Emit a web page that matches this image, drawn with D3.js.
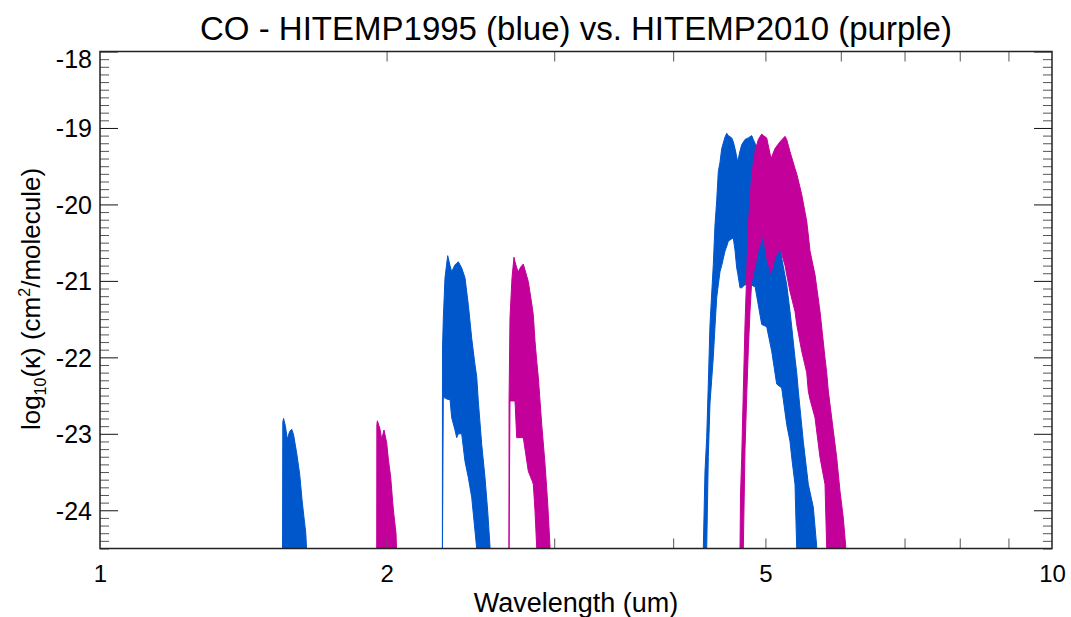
<!DOCTYPE html>
<html lang="en">
<head>
  <meta charset="UTF-8" />
  <title>CO - HITEMP1995 vs. HITEMP2010</title>
  <script src="https://d3js.org/d3.v7.min.js"></script>
  <style>
    body { margin: 0; background: #fff; }
    svg { display: block; font-family: "Liberation Sans", Arial, Helvetica, sans-serif; }
    .tick line { stroke: #555; }
    .major .tick line { stroke: #111; }
  </style>
</head>
<body>
<svg id="chart" width="1071" height="617"></svg>
<script>
// each band: [wavelength (um), upper envelope, lower envelope] in log10(kappa)
const band1995a = [
  [1.555, -24.5, -24.5], [1.556, -22.85, -24.5], [1.559, -22.80, -24.5], [1.566, -22.90, -24.5],
  [1.573, -23.07, -24.5], [1.582, -22.97, -24.5], [1.590, -22.94, -24.5], [1.597, -23.01, -24.5],
  [1.609, -23.25, -24.5], [1.621, -23.53, -24.5], [1.630, -23.86, -24.5], [1.637, -24.07, -24.5],
  [1.645, -24.30, -24.5], [1.648, -24.5, -24.5]
];
const band1995b = [
  [2.2890, -24.5, -24.5], [2.2895, -21.9, -24.5], [2.2940, -21.5, -22.53], [2.3035, -20.96, -22.53],
  [2.3186, -20.67, -22.55], [2.3316, -20.80, -22.55], [2.3411, -20.88, -22.79], [2.3599, -20.79, -22.95],
  [2.3696, -20.77, -23.05], [2.3788, -20.75, -23.0], [2.3985, -20.83, -23.0], [2.4177, -20.96, -23.36],
  [2.4371, -21.31, -23.57], [2.4572, -21.75, -23.83], [2.4769, -22.10, -24.27], [2.4871, -22.25, -24.5],
  [2.4967, -22.57, -24.5], [2.5174, -23.14, -24.5], [2.5375, -23.57, -24.5], [2.5541, -24.01, -24.5],
  [2.5684, -24.47, -24.5]
];
const band1995c = [
  [4.3025, -24.5, -24.5], [4.3201, -23.49, -24.5], [4.3380, -23.05, -24.5], [4.3548, -22.35, -23.3],
  [4.3727, -21.57, -22.6], [4.4077, -20.79, -22.0], [4.4259, -20.27, -21.6], [4.4441, -19.95, -21.22],
  [4.4614, -19.57, -21.05], [4.4798, -19.45, -20.88], [4.4983, -19.27, -20.80], [4.5343, -19.12, -20.61],
  [4.5530, -19.07, -20.55], [4.5707, -19.10, -20.48], [4.6085, -19.13, -20.45], [4.6264, -19.18, -20.44],
  [4.6455, -19.27, -20.6], [4.6646, -19.38, -20.83], [4.6759, -19.44, -20.9], [4.7020, -19.30, -21.09],
  [4.7214, -19.22, -21.09], [4.7592, -19.15, -21.05], [4.7974, -19.13, -21.05], [4.8370, -19.10, -21.05],
  [4.8557, -19.15, -21.07], [4.8758, -19.2, -21.07], [4.9554, -19.35, -21.57], [5.0157, -19.6, -21.6],
  [5.0767, -19.85, -21.92], [5.1384, -20.3, -22.35], [5.2009, -20.7, -22.4], [5.2642, -21.05, -22.88],
  [5.3064, -21.40, -23.1], [5.3283, -21.6, -23.31], [5.3709, -22.01, -23.66], [5.3931, -22.2, -24.5],
  [5.4140, -22.44, -24.5], [5.4798, -23.10, -24.5], [5.5465, -23.66, -24.5], [5.6139, -23.96, -24.5],
  [5.6604, -24.47, -24.5]
];
const band2010a = [
  [1.9528, -24.5, -24.5], [1.9535, -22.88, -24.5], [1.9561, -22.83, -24.5], [1.9685, -22.94, -24.5],
  [1.9766, -23.07, -24.5], [1.9876, -22.95, -24.5], [2.0006, -23.12, -24.5], [2.0084, -23.33, -24.5],
  [2.0201, -23.57, -24.5], [2.0299, -23.90, -24.5], [2.0362, -24.07, -24.5], [2.0461, -24.30, -24.5],
  [2.0485, -24.5, -24.5]
];
const band2010b = [
  [2.6890, -24.5, -24.5], [2.6895, -22.57, -24.5], [2.6957, -21.48, -22.57], [2.7088, -20.96, -22.57],
  [2.7219, -20.69, -22.57], [2.7285, -20.75, -22.57], [2.7398, -20.83, -23.05], [2.7505, -20.88, -23.05],
  [2.7665, -20.82, -23.05], [2.7839, -20.78, -23.05], [2.8178, -21.01, -23.49], [2.8452, -21.35, -23.62],
  [2.8521, -21.45, -23.66], [2.8639, -21.79, -24.01], [2.8758, -22.05, -24.5], [2.8870, -22.27, -24.5],
  [2.9108, -22.88, -24.5], [2.9342, -23.40, -24.5], [2.9534, -23.92, -24.5], [2.9695, -24.47, -24.5]
];
const band2010c = [
  [4.7020, -24.5, -24.5], [4.7077, -23.8, -24.5], [4.7214, -23.31, -24.5], [4.7397, -22.44, -24.5],
  [4.7592, -21.57, -23.2], [4.7788, -20.92, -22.5], [4.7974, -20.27, -21.9], [4.8171, -19.95, -21.4],
  [4.8370, -19.61, -21.0], [4.8758, -19.31, -20.8], [4.9148, -19.15, -20.6], [4.9554, -19.08, -20.45],
  [4.9747, -19.10, -20.4], [5.0157, -19.13, -20.7], [5.0681, -19.40, -20.9], [5.1172, -19.27, -20.7],
  [5.1795, -19.18, -20.57], [5.2427, -19.11, -20.8], [5.2642, -19.15, -20.92], [5.3064, -19.31, -21.14],
  [5.3709, -19.53, -21.4], [5.3931, -19.6, -21.57], [5.4587, -19.87, -21.92], [5.5251, -20.22, -22.2],
  [5.5465, -20.4, -22.44], [5.5695, -20.61, -22.55], [5.6372, -20.92, -22.79], [5.7057, -21.40, -23.31],
  [5.7751, -22.01, -23.66], [5.7989, -22.2, -24.5], [5.8214, -22.44, -24.5], [5.8921, -22.96, -24.5],
  [5.9407, -23.31, -24.5], [5.9884, -23.75, -24.5], [6.0365, -24.10, -24.5], [6.0716, -24.47, -24.5]
];
const bands1995 = [band1995a, band1995b, band1995c];
const bands2010 = [band2010a, band2010b, band2010c];

const xLabelTicks = [1, 2, 5, 10];
const xMinorTicks = [2, 3, 4, 5, 6, 7, 8, 9];
const yMajorTicks = [-24, -23, -22, -21, -20, -19, -18];

const blue = "#0057cc", purple = "#c4009a";

const svg = d3.select("#chart");
const margin = {left: 100, right: 1052, top: 51.5, bottom: 548.5};

const x = d3.scaleLog().domain([1, 10]).range([margin.left, margin.right]);
const y = d3.scaleLinear().domain([-24.5, -18]).range([margin.bottom, margin.top]);

svg.append("defs").append("clipPath").attr("id", "plotclip")
  .append("rect")
  .attr("x", margin.left).attr("y", margin.top)
  .attr("width", margin.right - margin.left).attr("height", margin.bottom - margin.top);

const area = d3.area()
  .x(d => x(d[0]))
  .y0(d => y(d[2]))
  .y1(d => y(d[1]));

const plot = svg.append("g").attr("clip-path", "url(#plotclip)");

function drawBands(bands, color) {
  plot.append("g").selectAll("path")
    .data(bands)
    .enter()
    .append("path")
    .attr("d", area)
    .attr("fill", color)
    .attr("stroke", color)
    .attr("stroke-width", 1)
    .attr("stroke-linejoin", "round");
}
drawBands(bands1995, blue);
drawBands(bands2010, purple);

// y minor ticks every 0.1
const yMinor = d3.range(-245, -179, 1).map(v => v / 10).filter(v => Math.abs(v - Math.round(v)) > 0.01);

function noDomain(g) { g.select(".domain").remove(); }

svg.append("g").attr("transform", `translate(${margin.left},0)`)
  .call(d3.axisLeft(y).tickValues(yMinor).tickSize(-9).tickFormat(""))
  .call(noDomain);
svg.append("g").attr("transform", `translate(${margin.right},0)`)
  .call(d3.axisRight(y).tickValues(yMinor).tickSize(-9).tickFormat(""))
  .call(noDomain);

svg.append("g").attr("class", "major").attr("transform", `translate(${margin.left},0)`)
  .call(d3.axisLeft(y).tickValues(yMajorTicks).tickSize(-18).tickPadding(8).tickFormat(d => String(d)))
  .call(noDomain)
  .call(g => g.selectAll("text")
    .attr("font-size", 25)
    .attr("fill", "#000")
    .attr("dy", d => d === -18 ? "0.62em" : "0.36em"));
svg.append("g").attr("class", "major").attr("transform", `translate(${margin.right},0)`)
  .call(d3.axisRight(y).tickValues(yMajorTicks).tickSize(-18).tickFormat(""))
  .call(noDomain);

svg.append("g").attr("transform", `translate(0,${margin.bottom})`)
  .call(d3.axisBottom(x).tickValues(xMinorTicks).tickSize(-10).tickFormat(""))
  .call(noDomain);
svg.append("g").attr("transform", `translate(0,${margin.top})`)
  .call(d3.axisTop(x).tickValues(xMinorTicks).tickSize(-10).tickFormat(""))
  .call(noDomain);

svg.append("g").attr("transform", `translate(0,${margin.bottom})`)
  .call(d3.axisBottom(x).tickValues(xLabelTicks).tickSize(0).tickPadding(16).tickFormat(d => String(d)))
  .call(noDomain)
  .call(g => g.selectAll("text").attr("font-size", 24).attr("fill", "#000"));

// frame
svg.append("rect")
  .attr("x", margin.left).attr("y", margin.top)
  .attr("width", margin.right - margin.left).attr("height", margin.bottom - margin.top)
  .attr("fill", "none").attr("stroke", "#222").attr("stroke-width", 1.5);

svg.append("text")
  .attr("x", 576).attr("y", 40)
  .attr("text-anchor", "middle")
  .attr("font-size", 33)
  .text("CO - HITEMP1995 (blue) vs. HITEMP2010 (purple)");

svg.append("text")
  .attr("x", 576).attr("y", 612)
  .attr("text-anchor", "middle")
  .attr("font-size", 27)
  .text("Wavelength (um)");

const ylab = svg.append("text")
  .attr("transform", "translate(40,299) rotate(-90)")
  .attr("text-anchor", "middle")
  .attr("font-size", 26);
ylab.append("tspan").text("log");
ylab.append("tspan").attr("font-size", 16).attr("dy", 6).text("10");
ylab.append("tspan").attr("dy", -6).text("(κ) (cm");
ylab.append("tspan").attr("font-size", 16).attr("dy", -10).text("2");
ylab.append("tspan").attr("dy", 10).text("/molecule)");
</script>
</body>
</html>
